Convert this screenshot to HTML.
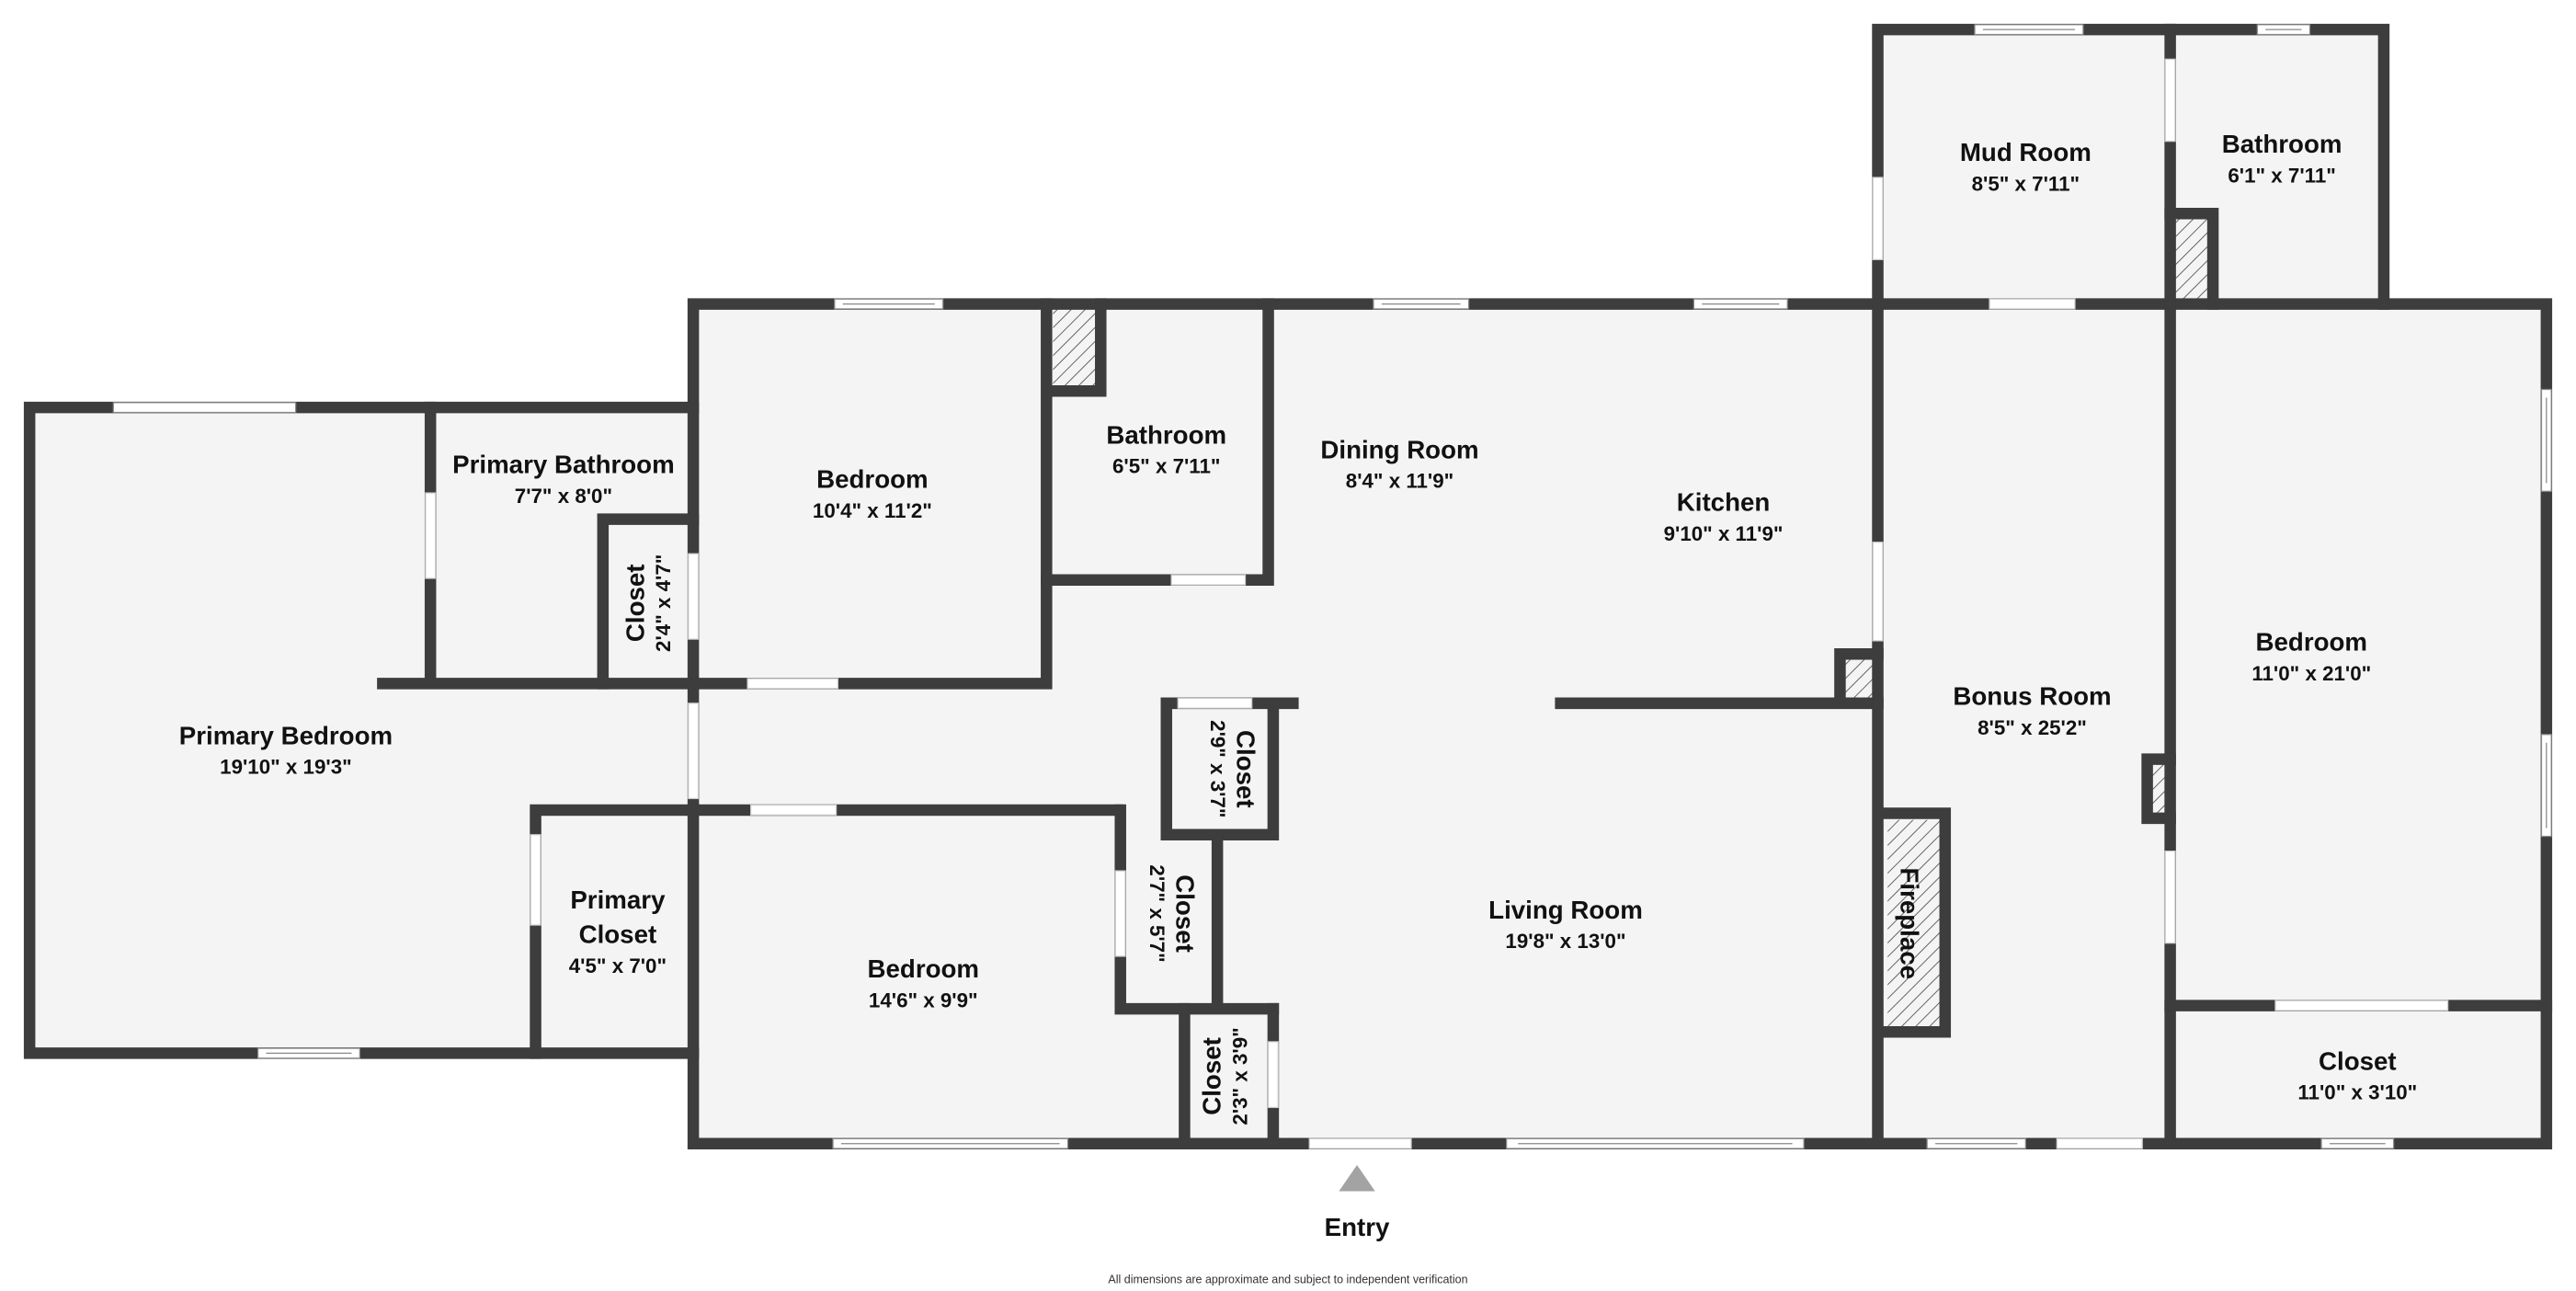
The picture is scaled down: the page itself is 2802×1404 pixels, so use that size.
<!DOCTYPE html>
<html><head><meta charset="utf-8"><style>
html,body{margin:0;padding:0;background:#fff;}
svg{display:block;}
text{font-family:"Liberation Sans",sans-serif;fill:#111;text-anchor:middle;}
.n{font-weight:bold;font-size:15.5px;}
.d{font-size:12.5px;font-weight:bold;}
</style></head><body>
<svg width="2802" height="1404" viewBox="0 0 1568 785.7" preserveAspectRatio="none" xmlns="http://www.w3.org/2000/svg">
<defs>
<pattern id="h" width="6" height="6" patternUnits="userSpaceOnUse" patternTransform="rotate(45)">
<rect width="6" height="6" fill="#f4f4f4"/><line x1="0" y1="0" x2="0" y2="6" stroke="#555" stroke-width="1"/>
</pattern>
</defs>
<!-- floors -->
<g fill="#f4f4f4">
<rect x="18" y="248" width="404" height="393"/>
<rect x="422" y="185" width="1128" height="511"/>
<rect x="1143" y="18" width="308" height="167"/>
</g>
<!-- hatched -->
<rect x="641" y="188" width="27" height="48" fill="url(#h)"/>
<rect x="1323" y="132" width="22" height="52" fill="url(#h)"/>
<rect x="1123" y="401" width="18" height="25" fill="url(#h)"/>
<rect x="1308" y="463" width="10" height="34" fill="url(#h)"/>
<rect x="1149" y="499" width="32" height="126" fill="url(#h)"/>
<!-- walls -->
<g stroke="#3d3d3d" stroke-width="7" stroke-linecap="square" fill="none">
<path d="M422 185H1550V696H422Z"/>
<path d="M422 248H18V641H422"/>
<path d="M1143 185V18H1451V185"/>
<path d="M1321 18V185"/>
<path d="M262 248V416M233 416H637V185"/>
<path d="M367 416V316H422"/>
<path d="M637 353H772V185"/>
<path d="M641 238H670V185"/>
<path d="M326 641V493H680"/>
<path d="M710 508V428H787M775 428V508H710"/>
<path d="M682 493V614H775M741 508V614"/>
<path d="M721 614V696M775 614V696"/>
<path d="M950 428H1143M1120 428V398H1143"/>
<path d="M1143 185V696M1321 185V696"/>
<path d="M1321 612H1550"/>
<path d="M1146 495H1184V628H1146"/>
<path d="M1347 185V130H1321"/>
<path d="M1321 462H1307V498H1321"/>
</g>
<!-- door gaps -->
<g fill="#fff" stroke="#ccc" stroke-width="0.7">
<rect x="419" y="428" width="6" height="58"/>
<rect x="419" y="337" width="6" height="52"/>
<rect x="259" y="300" width="6" height="52"/>
<rect x="455" y="413" width="55" height="6"/>
<rect x="457" y="490" width="52" height="6"/>
<rect x="713" y="350" width="45" height="6"/>
<rect x="717" y="425" width="45" height="6"/>
<rect x="323" y="508" width="6" height="55"/>
<rect x="679" y="530" width="6" height="52"/>
<rect x="772" y="634" width="6" height="40"/>
<rect x="797" y="693" width="62" height="6"/>
<rect x="1140" y="330" width="6" height="60"/>
<rect x="1140" y="108" width="6" height="50"/>
<rect x="1318" y="36" width="6" height="50"/>
<rect x="1318" y="518" width="6" height="56"/>
<rect x="1211" y="182" width="52" height="6"/>
<rect x="1252" y="693" width="52" height="6"/>
<rect x="1385" y="609" width="105" height="6"/>
</g>
<!-- windows -->
<g fill="#fff" stroke="#888" stroke-width="0.7">
<rect x="69" y="245" width="111" height="6"/>
<rect x="157" y="638" width="62" height="6"/><line x1="162" y1="641" x2="214" y2="641"/>
<rect x="508" y="182" width="66" height="6"/><line x1="513" y1="185" x2="569" y2="185"/>
<rect x="836" y="182" width="58" height="6"/><line x1="841" y1="185" x2="889" y2="185"/>
<rect x="1031" y="182" width="57" height="6"/><line x1="1036" y1="185" x2="1083" y2="185"/>
<rect x="1202" y="15" width="66" height="6"/><line x1="1207" y1="18" x2="1263" y2="18"/>
<rect x="1374" y="15" width="32" height="6"/><line x1="1379" y1="18" x2="1401" y2="18"/>
<rect x="507" y="693" width="143" height="6"/><line x1="512" y1="696" x2="645" y2="696"/>
<rect x="917" y="693" width="181" height="6"/><line x1="924" y1="696" x2="1091" y2="696"/>
<rect x="1173" y="693" width="60" height="6"/><line x1="1178" y1="696" x2="1228" y2="696"/>
<rect x="1413" y="693" width="44" height="6"/><line x1="1418" y1="696" x2="1452" y2="696"/>
<rect x="1547" y="237" width="6" height="62"/><line x1="1550" y1="242" x2="1550" y2="294"/>
<rect x="1547" y="447" width="6" height="62"/><line x1="1550" y1="452" x2="1550" y2="504"/>
</g>
<!-- labels -->
<text class="n" x="1233" y="98">Mud Room</text><text class="d" x="1233" y="116">8'5" x 7'11"</text>
<text class="n" x="1389" y="93">Bathroom</text><text class="d" x="1389" y="111">6'1" x 7'11"</text>
<text class="n" x="343" y="288">Primary Bathroom</text><text class="d" x="343" y="306">7'7" x 8'0"</text>
<text class="n" x="531" y="297">Bedroom</text><text class="d" x="531" y="315">10'4" x 11'2"</text>
<text class="n" x="710" y="270">Bathroom</text><text class="d" x="710" y="288">6'5" x 7'11"</text>
<text class="n" x="852" y="279">Dining Room</text><text class="d" x="852" y="297">8'4" x 11'9"</text>
<text class="n" x="1049" y="311">Kitchen</text><text class="d" x="1049" y="329">9'10" x 11'9"</text>
<text class="n" x="1407" y="396">Bedroom</text><text class="d" x="1407" y="414">11'0" x 21'0"</text>
<text class="n" x="1237" y="429">Bonus Room</text><text class="d" x="1237" y="447">8'5" x 25'2"</text>
<text class="n" x="174" y="453">Primary Bedroom</text><text class="d" x="174" y="471">19'10" x 19'3"</text>
<text class="n" x="376" y="553">Primary</text><text class="n" x="376" y="574">Closet</text><text class="d" x="376" y="592">4'5" x 7'0"</text>
<text class="n" x="562" y="595">Bedroom</text><text class="d" x="562" y="613">14'6" x 9'9"</text>
<text class="n" x="953" y="559">Living Room</text><text class="d" x="953" y="577">19'8" x 13'0"</text>
<text class="n" x="1435" y="651">Closet</text><text class="d" x="1435" y="669">11'0" x 3'10"</text>
<g transform="translate(392,367) rotate(-90)"><text class="n" x="0" y="0">Closet</text><text class="d" x="0" y="16">2'4" x 4'7"</text></g>
<g transform="translate(753,468) rotate(90)"><text class="n" x="0" y="0">Closet</text><text class="d" x="0" y="16">2'9" x 3'7"</text></g>
<g transform="translate(716,556) rotate(90)"><text class="n" x="0" y="0">Closet</text><text class="d" x="0" y="16">2'7" x 5'7"</text></g>
<g transform="translate(743,655) rotate(-90)"><text class="n" x="0" y="0">Closet</text><text class="d" x="0" y="16">2'3" x 3'9"</text></g>
<g transform="translate(1157,562) rotate(90)"><text class="n" x="0" y="0">Fireplace</text></g>
<polygon points="826,709 837,725 815,725" fill="#a3a3a3"/>
<text class="n" x="826" y="752">Entry</text>
<text x="784" y="781" style="font-size:7px;fill:#333">All dimensions are approximate and subject to independent verification</text>
</svg>
</body></html>
